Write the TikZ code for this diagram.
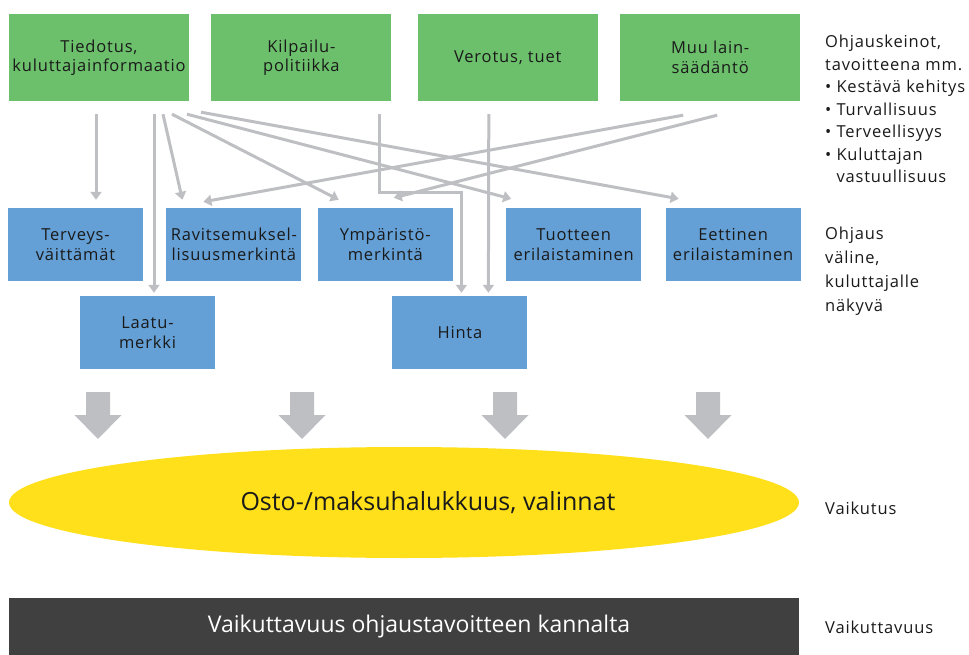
\documentclass[tikz,border=0pt]{standalone}
\usepackage{fontspec}
\setmainfont{Open Sans}
\newfontfamily\harvafont[LetterSpace=5]{Open Sans}
\usetikzlibrary{positioning,shapes.geometric,arrows.meta}

\definecolor{vihrea}{RGB}{108,192,108}
\definecolor{sininen}{RGB}{100,160,214}
\definecolor{keltainen}{RGB}{255,224,26}
\definecolor{tumma}{RGB}{64,64,64}
\definecolor{harmaa}{RGB}{190,191,195}
\definecolor{teksti}{RGB}{26,26,26}

\begin{document}
\begin{tikzpicture}[
    x=1pt, y=-1pt,
    every node/.style={align=center, text=teksti, inner sep=0pt, font=\harvafont\fontsize{16.5}{19.5}\selectfont},
    keino/.style={fill=vihrea, minimum width=180pt, minimum height=87pt},
    valine/.style={fill=sininen, minimum width=135pt, minimum height=73pt},
    nuoli/.style={draw=harmaa, line width=3pt, -{Triangle[width=11pt,length=8pt]}},
    selite/.style={anchor=west, align=left}
]
\useasboundingbox (0,0) rectangle (969,655);

% Ohjauskeinot
\node[keino] (tiedotus) at (99,57.5) {Tiedotus,\\kuluttajainformaatio};
\node[keino, right=22pt of tiedotus] (kilpailu) {Kilpailu-\\politiikka};
\node[keino, right=26pt of kilpailu] (verotus) {Verotus, tuet};
\node[keino, right=22pt of verotus] (muu) {Muu lain-\\säädäntö};

% Ohjausvälineet
\node[valine] (terveys) at (75.5,244.5) {Terveys-\\väittämät};
\node[valine, right=23pt of terveys] (ravitsemus) {Ravitsemuksel-\\lisuusmerkintä};
\node[valine, right=16pt of ravitsemus] (ymparisto) {Ympäristö-\\merkintä};
\node[valine, right=53pt of ymparisto] (tuotteen) {Tuotteen\\erilaistaminen};
\node[valine, right=24pt of tuotteen] (eettinen) {Eettinen\\erilaistaminen};

\node[valine] (laatu) at (147.5,332.5) {Laatu-\\merkki};
\node[valine, right=177pt of laatu] (hinta) {Hinta};

% Vaikutus ja vaikuttavuus
\node[ellipse, fill=keltainen, minimum width=790pt, minimum height=111pt, font=\fontsize{25}{29}\selectfont] (halukkuus) at (404,502.5) {\hspace*{48pt}Osto-/maksuhalukkuus, valinnat};
\node[fill=tumma, minimum width=790pt, minimum height=57pt, text=white, font=\fontsize{23}{27}\selectfont] (vaikuttavuus) at (404,626.5) {\hspace*{30pt}Vaikuttavuus ohjaustavoitteen kannalta};

% Selitteet
\node[selite, anchor=north west, font=\harvafont\fontsize{16.5}{22.5}\selectfont] (tavoitteet) at (825,35) {Ohjauskeinot,\\tavoitteena mm.\\\textbullet\ Kestävä kehitys\\\textbullet\ Turvallisuus\\\textbullet\ Terveellisyys\\\textbullet\ Kuluttajan\\\phantom{\textbullet\ }vastuullisuus};
\node[selite, anchor=north west, font=\harvafont\fontsize{16.5}{24}\selectfont] (ohjaus) at (825,227) {Ohjaus\\väline,\\kuluttajalle\\näkyvä};
\node[selite] (vaikutus) at (825,508) {Vaikutus};
\node[selite] (vaikuttavuusteksti) at (825,627) {Vaikuttavuus};

% Liens
\draw[nuoli] ([xshift=-3pt,yshift=-13pt]tiedotus.south) -- ([xshift=20.5pt,yshift=8pt]terveys.north);
\draw[nuoli] ([xshift=55pt,yshift=-13pt]tiedotus.south) -- ([xshift=6.5pt,yshift=3pt]laatu.north);
\draw[nuoli] ([xshift=64pt,yshift=-13pt]tiedotus.south) -- ([xshift=-51.5pt,yshift=8pt]ravitsemus.north);
\draw[nuoli] ([xshift=73pt,yshift=-13pt]tiedotus.south) -- ([xshift=-46.5pt,yshift=8pt]ymparisto.north);
\draw[nuoli] ([xshift=88pt,yshift=-13pt]tiedotus.south) -- ([xshift=-62.5pt,yshift=9pt]tuotteen.north);
\draw[nuoli] ([xshift=102pt,yshift=-11pt]tiedotus.south) -- ([xshift=-54.5pt,yshift=9pt]eettinen.north);
\draw[nuoli] ([xshift=78pt,yshift=-13pt]kilpailu.south) -- ++(0,78) -| ([xshift=1.5pt,yshift=3pt]hinta.north);
\draw[nuoli] ([xshift=-19pt,yshift=-13pt]verotus.south) -- ([xshift=28.5pt,yshift=3pt]hinta.north);
\draw[nuoli] ([xshift=-27pt,yshift=-14pt]muu.south) -- ([xshift=-30.5pt,yshift=6pt]ravitsemus.north);
\draw[nuoli] ([xshift=7pt,yshift=-14pt]muu.south) -- ([xshift=8.5pt,yshift=10pt]ymparisto.north);

% Isot nuolet
\foreach \x in {98,302,505,708}
  \fill[harmaa] (\x-12,392) -- (\x+12,392) -- (\x+12,415) -- (\x+23.5,415) -- (\x,439) -- (\x-23.5,415) -- (\x-12,415) -- cycle;

\end{tikzpicture}
\end{document}
